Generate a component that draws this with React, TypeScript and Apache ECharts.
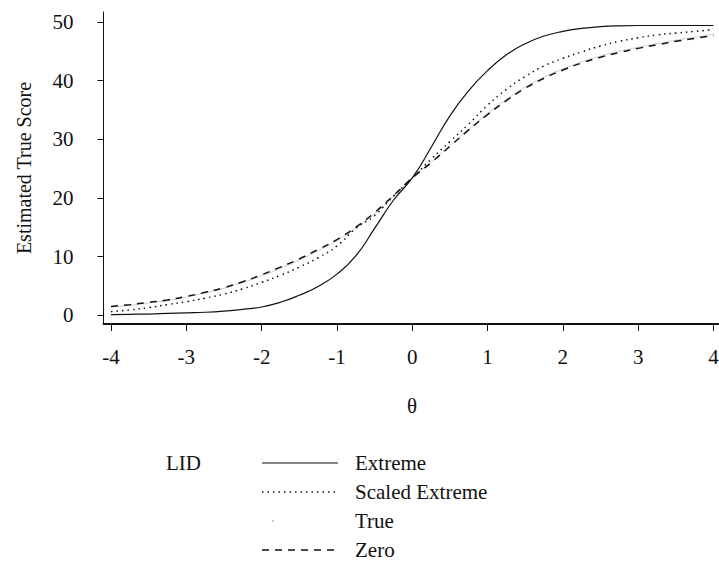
import React, { useEffect, useRef } from "react";
import * as echarts from "echarts";

const thetas = [
  -4, -3.75, -3.5, -3.25, -3, -2.75, -2.5, -2.25, -2, -1.75, -1.5, -1.25, -1, -0.75, -0.5, -0.25,
  0, 0.25, 0.5, 0.75, 1, 1.25, 1.5, 1.75, 2, 2.25, 2.5, 2.75, 3, 3.25, 3.5, 3.75, 4,
];

const extreme = [
  0.1, 0.15, 0.2, 0.3, 0.4, 0.5, 0.7, 1.0, 1.4, 2.2, 3.4, 4.9, 7.0, 10.1, 14.8, 19.6,
  23.4, 28.6, 34.0, 38.3, 41.7, 44.4, 46.3, 47.6, 48.4, 48.9, 49.2, 49.35, 49.4, 49.4, 49.4, 49.4, 49.4,
];

const scaledExtreme = [
  0.6, 0.9, 1.3, 1.8, 2.3, 2.9, 3.6, 4.5, 5.6, 6.8, 8.2, 9.8, 11.8, 14.8, 17.0, 20.3,
  23.4, 26.6, 29.6, 32.6, 35.8, 38.5, 40.7, 42.5, 43.8, 44.9, 45.9, 46.7, 47.3, 47.8, 48.1, 48.4, 48.7,
];

const trueScore = [
  1.4, 1.7, 2.1, 2.5, 3.1, 3.8, 4.6, 5.6, 6.7, 8.0, 9.4, 11.0, 12.7, 14.8, 17.3, 20.2,
  23.4, 26.1, 28.9, 31.7, 34.4, 36.8, 38.9, 40.6, 42.0, 43.2, 44.2, 45.0, 45.7, 46.3, 46.9, 47.4, 47.9,
];

const zero = [
  1.5, 1.8, 2.2, 2.6, 3.2, 3.9, 4.7, 5.7, 6.9, 8.2, 9.6, 11.2, 12.9, 15.0, 17.5, 20.4,
  23.4, 26.0, 28.8, 31.6, 34.2, 36.6, 38.7, 40.4, 41.8, 43.0, 44.0, 44.8, 45.5, 46.1, 46.7, 47.2, 47.7,
];

const xTicks = [-4, -3, -2, -1, 0, 1, 2, 3, 4];
const yTicks = [0, 10, 20, 30, 40, 50];
const legendNames = ["Extreme", "Scaled Extreme", "True", "Zero"];

const FONT = "Liberation Serif, Times New Roman, serif";

export default function App() {
  const ref = useRef<HTMLDivElement>(null);

  useEffect(() => {
    if (!ref.current) return;
    const chart = echarts.init(ref.current, null, { renderer: "svg" });
    const zip = (vals: number[]) => thetas.map((t, i) => [t, vals[i]]);

    const rowsY = [463, 492, 521, 550];
    const lineStyles = [
      { stroke: "#111", lineWidth: 1, lineDash: null as any },
      { stroke: "#111", lineWidth: 1.3, lineDash: [1.5, 4] },
      null,
      { stroke: "#111", lineWidth: 1.5, lineDash: [7, 6] },
    ];
    const legendGraphics: any[] = [
      {
        type: "text",
        x: 166,
        y: rowsY[0],
        style: {
          text: "LID",
          font: `21px ${FONT}`,
          fill: "#111",
          textVerticalAlign: "middle",
          textAlign: "left",
        },
      },
    ];
    legendNames.forEach((name, i) => {
      const ls = lineStyles[i];
      if (ls) {
        legendGraphics.push({
          type: "line",
          shape: { x1: 262, y1: rowsY[i], x2: 338, y2: rowsY[i] },
          style: { stroke: ls.stroke, lineWidth: ls.lineWidth, lineDash: ls.lineDash },
        });
      } else {
        legendGraphics.push({
          type: "circle",
          shape: { cx: 273, cy: rowsY[i], r: 0.8 },
          style: { fill: "#aaa" },
        });
      }
      legendGraphics.push({
        type: "text",
        x: 355,
        y: rowsY[i],
        style: {
          text: name,
          font: `21px ${FONT}`,
          fill: "#111",
          textVerticalAlign: "middle",
          textAlign: "left",
        },
      });
    });

    chart.setOption({
      animation: false,
      grid: {
        left: 103.5,
        top: 12,
        width: 617.5,
        height: 312,
        containLabel: false,
        outerBoundsMode: "none",
      },
      xAxis: {
        type: "value",
        min: -4.1,
        max: 4.1,
        axisLine: { show: true, onZero: false, lineStyle: { color: "#111", width: 2 } },
        axisTick: {
          show: true,
          customValues: xTicks,
          length: 7,
          lineStyle: { color: "#111", width: 1 },
        },
        axisLabel: {
          customValues: xTicks,
          margin: 22,
          fontSize: 21,
          fontFamily: FONT,
          color: "#111",
          showMaxLabel: true,
          formatter: (v: number) => String(v),
        },
        splitLine: { show: false },
      },
      yAxis: {
        type: "value",
        min: -1.5,
        max: 51.7,
        axisLine: { show: true, onZero: false, lineStyle: { color: "#111", width: 1 } },
        axisTick: {
          show: true,
          customValues: yTicks,
          length: 6,
          lineStyle: { color: "#111", width: 1 },
        },
        axisLabel: {
          customValues: yTicks,
          margin: 30,
          fontSize: 21,
          fontFamily: FONT,
          color: "#111",
        },
        splitLine: { show: false },
      },
      graphic: [
        {
          type: "text",
          x: 24,
          y: 168,
          rotation: Math.PI / 2,
          style: {
            text: "Estimated True Score",
            font: `20px ${FONT}`,
            fill: "#111",
            textAlign: "center",
            textVerticalAlign: "middle",
          },
        },
        {
          type: "text",
          x: 412,
          y: 406,
          style: {
            text: "θ",
            font: `21px ${FONT}`,
            fill: "#111",
            textAlign: "center",
            textVerticalAlign: "middle",
          },
        },
        ...legendGraphics,
      ],
      series: [
        {
          name: "True",
          type: "line",
          data: zip(trueScore),
          smooth: true,
          showSymbol: false,
          lineStyle: { color: "#cfcfcf", width: 1 },
        },
        {
          name: "Extreme",
          type: "line",
          data: zip(extreme),
          smooth: true,
          showSymbol: false,
          lineStyle: { color: "#111", width: 1.2 },
        },
        {
          name: "Scaled Extreme",
          type: "line",
          data: zip(scaledExtreme),
          smooth: true,
          showSymbol: false,
          lineStyle: { color: "#111", width: 1.5, type: [1.5, 4] },
        },
        {
          name: "Zero",
          type: "line",
          data: zip(zero),
          smooth: true,
          showSymbol: false,
          lineStyle: { color: "#111", width: 1.5, type: [7, 6] },
        },
      ],
    });
    return () => chart.dispose();
  }, []);

  return (
    <div
      ref={ref}
      style={{ position: "fixed", left: 0, top: 0, width: 719, height: 563, background: "#fff" }}
    />
  );
}
